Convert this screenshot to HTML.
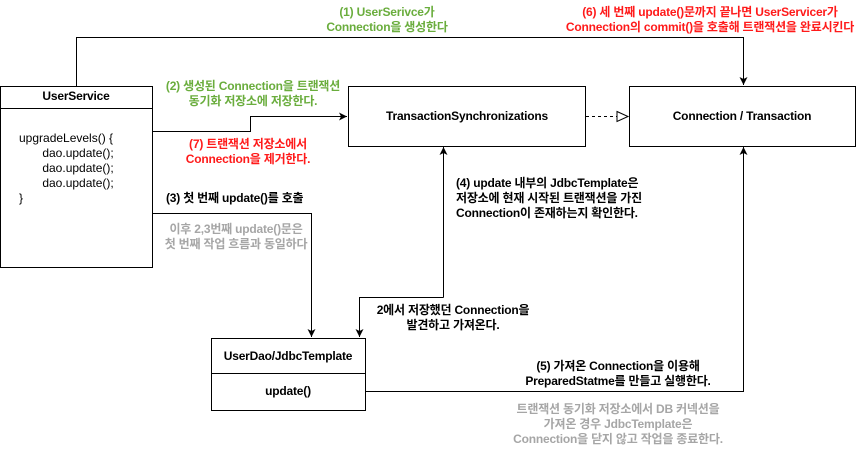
<!DOCTYPE html>
<html><head><meta charset="utf-8"><style>
body{margin:0;width:857px;height:459px;background:#fff;position:relative;overflow:hidden;font-family:"Liberation Sans","Noto Sans CJK KR",sans-serif;}
.t{position:absolute;font-size:12px;font-weight:bold;line-height:15px;white-space:nowrap;letter-spacing:-0.2px;}
.c{transform:translateX(-50%);text-align:center;}
.g{color:#6aad3d}.r{color:#ff1a1a}.gr{color:#a6a6a6}.k{color:#000}
</style></head><body>
<svg width="857" height="459" style="position:absolute;left:0;top:0">
<defs>
<marker id="a" markerWidth="10" markerHeight="10" refX="9" refY="5" orient="auto" markerUnits="userSpaceOnUse"><path d="M1,1 L9,5 L1,9 L3,5 Z" fill="#000"/></marker>
<marker id="h" markerWidth="14" markerHeight="14" refX="12" refY="6" orient="auto" markerUnits="userSpaceOnUse"><path d="M1,1 L12,6 L1,11 Z" fill="#fff" stroke="#000"/></marker>
</defs>
<g fill="#fff" stroke="#000" stroke-width="1">
<rect x="0.5" y="86.5" width="152" height="181"/>
<line x1="0" y1="108.5" x2="152" y2="108.5"/>
<rect x="348.5" y="86.5" width="237" height="60"/>
<rect x="629.5" y="86.5" width="226" height="60"/>
<rect x="211.5" y="338.5" width="154" height="72"/>
<line x1="211" y1="373.5" x2="365" y2="373.5"/>
</g>
<g fill="none" stroke="#000" stroke-width="1">
<polyline points="76.5,86 76.5,37.5 743.5,37.5 743.5,85" marker-end="url(#a)"/>
<polyline points="152,131.5 250.5,131.5 250.5,116.5 347,116.5" marker-end="url(#a)"/>
<line x1="586" y1="116.5" x2="628" y2="116.5" stroke-dasharray="3,3" marker-end="url(#h)"/>
<polyline points="152,213.5 311.5,213.5 311.5,337" marker-end="url(#a)"/>
<polyline points="443.5,297.5 443.5,147" marker-end="url(#a)"/>
<polyline points="443.5,297.5 359.5,297.5 359.5,337" marker-end="url(#a)"/>
<polyline points="366,391.5 743.5,391.5 743.5,147" marker-end="url(#a)"/>
</g>
</svg>
<div class="t c k" style="left:76px;top:89px">UserService</div>
<div class="t k" style="left:19px;top:131px;font-weight:normal;font-size:12px;letter-spacing:0">upgradeLevels() {<br>&nbsp;&nbsp;&nbsp;&nbsp;&nbsp;&nbsp;&nbsp;dao.update();<br>&nbsp;&nbsp;&nbsp;&nbsp;&nbsp;&nbsp;&nbsp;dao.update();<br>&nbsp;&nbsp;&nbsp;&nbsp;&nbsp;&nbsp;&nbsp;dao.update();<br>}</div>
<div class="t c k" style="left:467px;top:109px">TransactionSynchronizations</div>
<div class="t c k" style="left:742px;top:109px">Connection / Transaction</div>
<div class="t c k" style="left:288px;top:349px">UserDao/JdbcTemplate</div>
<div class="t c k" style="left:288px;top:384px">update()</div>
<div class="t c g" style="left:387px;top:5px">(1) UserSerivce가<br>Connection을 생성한다</div>
<div class="t c r" style="left:710px;top:5px">(6) 세 번째 update()문까지 끝나면 UserServicer가<br>Connection의 commit()을 호출해 트랜잭션을 완료시킨다</div>
<div class="t c g" style="left:253px;top:79px">(2) 생성된 Connection을 트랜잭션<br>동기화 저장소에 저장한다.</div>
<div class="t c r" style="left:248px;top:137px">(7) 트랜잭션 저장소에서<br>Connection을 제거한다.</div>
<div class="t k" style="left:166px;top:191px">(3) 첫 번째 update()를 호출</div>
<div class="t c gr" style="left:236px;top:222px">이후 2,3번째 update()문은<br>첫 번째 작업 흐름과 동일하다</div>
<div class="t k" style="left:456px;top:176px">(4) update 내부의 JdbcTemplate은<br>저장소에 현재 시작된 트랜잭션을 가진<br>Connection이 존재하는지 확인한다.</div>
<div class="t c k" style="left:453px;top:303px">2에서 저장했던 Connection을<br>발견하고 가져온다.</div>
<div class="t c k" style="left:618px;top:359px">(5) 가져온 Connection을 이용해<br>PreparedStatme를 만들고 실행한다.</div>
<div class="t c gr" style="left:618px;top:402px">트랜잭션 동기화 저장소에서 DB 커넥션을<br>가져온 경우 JdbcTemplate은<br>Connection을 닫지 않고 작업을 종료한다.</div>
</body></html>
